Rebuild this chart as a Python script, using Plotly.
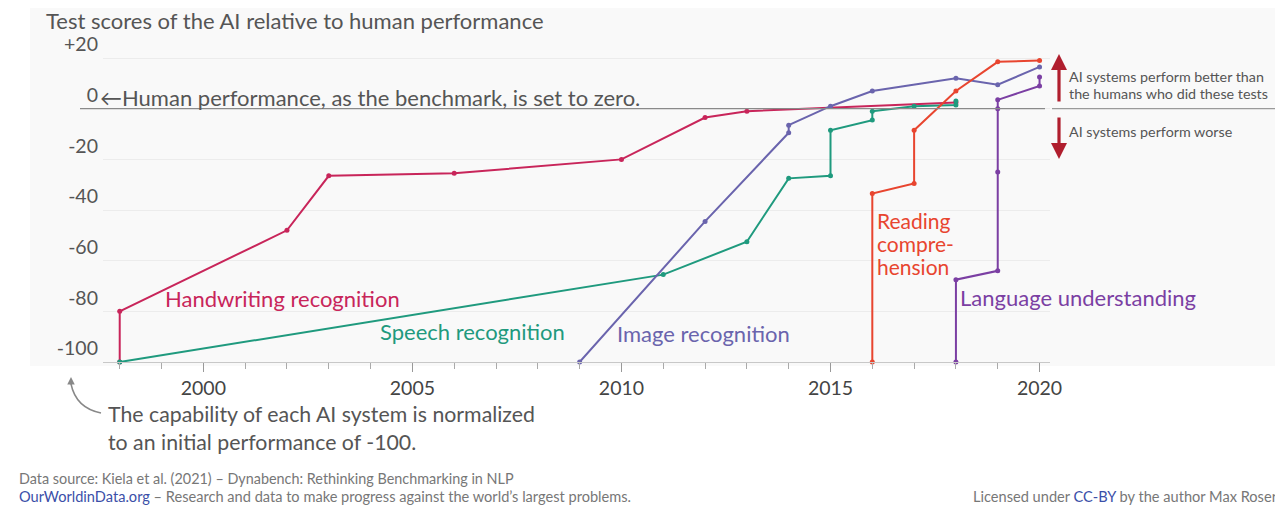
import plotly.graph_objects as go

# ---------------- data ----------------
handwriting_years = [1998, 1998, 2002, 2003, 2006, 2010, 2012, 2013, 2018]
handwriting_vals = [-100, -80, -48, -26.5, -25.5, -20, -3.5, -1, 2.5]

speech_years = [1998, 2011, 2013, 2014, 2015, 2015, 2016, 2016, 2017, 2018, 2018]
speech_vals = [-100, -65.5, -52.5, -27.5, -26.5, -8.5, -4.5, -1, 1, 1.5, 3]

image_years = [2009, 2012, 2014, 2014, 2015, 2016, 2018, 2019, 2020]
image_vals = [-100, -44.5, -9.5, -6.5, 1, 7, 12, 9.5, 16.5]

reading_years = [2016, 2016, 2017, 2017, 2018, 2019, 2020]
reading_vals = [-100, -33.5, -29.5, -8.5, 7, 18.5, 19]

language_years = [2018, 2018, 2019, 2019, 2019, 2019, 2020, 2020]
language_vals = [-100, -67.5, -64, -25, 0, 3.5, 9, 12.5]

y_tickvals = [-100, -80, -60, -40, -20, 0, 20]
y_ticktext = ["-100", "-80", "-60", "-40", "-20", "0", "+20"]
x_tickvals = [2000, 2005, 2010, 2015, 2020]

series = [
    ("Handwriting recognition", handwriting_years, handwriting_vals, "#c8255a"),
    ("Speech recognition", speech_years, speech_vals, "#1f9a7e"),
    ("Image recognition", image_years, image_vals, "#6a64ad"),
    ("Reading comprehension", reading_years, reading_vals, "#e8452f"),
    ("Language understanding", language_years, language_vals, "#7b3fa3"),
]

# ---------------- layout geometry (reference-pixel coordinates) ----------------
OFF = 8                      # browser body margin
W, H = 1283, 507             # window
FW, FH = W - OFF, H - OFF    # figure size
L, R, T, B = 103, 1050, 53, 362
Y_MIN, Y_MAX = -100, 22
X_MIN, X_MAX = 1997.6, 2020.25


def px(x):
    return (x - L) / (R - L)


def py(y):
    return (B - y) / (B - T)


FONT = "Lato, 'Open Sans', sans-serif"

fig = go.Figure()
for name, xs, ys, col in series:
    fig.add_trace(go.Scatter(
        x=xs, y=ys, mode="lines+markers", name=name,
        line=dict(color=col, width=2),
        marker=dict(color=col, size=5),
        cliponaxis=False, showlegend=False,
    ))

shapes = []
shapes.append(dict(type="rect", xref="paper", yref="paper", layer="below",
                   x0=px(30), x1=px(W), y0=py(366), y1=py(0),
                   fillcolor="#f9f9f9", line=dict(width=0)))
zero_paper = (0 - Y_MIN) / (Y_MAX - Y_MIN)
shapes.append(dict(type="line", xref="paper", yref="paper",
                   x0=px(80), x1=px(1045), y0=zero_paper, y1=zero_paper,
                   line=dict(color="#8a8a8a", width=1.3)))
shapes.append(dict(type="line", xref="paper", yref="paper",
                   x0=px(1052), x1=px(W), y0=zero_paper, y1=zero_paper,
                   line=dict(color="#9a9a9a", width=1.3)))
shapes.append(dict(type="rect", xref="paper", yref="paper",
                   x0=px(1186), x1=px(1266), y0=py(6), y1=py(-2),
                   fillcolor="#be2a2a", line=dict(width=0)))
shapes.append(dict(type="path", xref="paper", yref="paper",
                   path=f"M {px(101)},{py(413)} Q {px(76)},{py(408)} {px(71)},{py(384)}",
                   line=dict(color="#888", width=1.5)))

annotations = []


def txt(x, y, text, size, color, xanchor="left", yanchor="middle"):
    annotations.append(dict(x=px(x), y=py(y), xref="paper", yref="paper",
                            text=text, showarrow=False, xanchor=xanchor,
                            yanchor=yanchor, align="left",
                            font=dict(family=FONT, size=size, color=color)))


txt(44, 20, "Test scores of the AI relative to human performance", 22, "#555")
txt(98, 97, "←Human performance, as the benchmark, is set to zero.", 22, "#555")

txt(163, 298, "Handwriting recognition", 22, "#c8255a")
txt(378, 331, "Speech recognition", 22, "#1f9a7e")
txt(615, 333, "Image recognition", 22, "#6a64ad")
txt(875, 220, "Reading", 21, "#e8452f")
txt(875, 243, "compre-", 21, "#e8452f")
txt(875, 266, "hension", 21, "#e8452f")
txt(958, 297, "Language understanding", 22, "#7b3fa3")

txt(1067, 76, "AI systems perform better than", 14.3, "#555")
txt(1067, 93, "the humans who did these tests", 14.3, "#555")
txt(1067, 131, "AI systems perform worse", 14.3, "#555")

txt(106, 428, "The capability of each AI system is normalized<br>to an initial performance of -100.", 21.3, "#555")

txt(17, 478, "Data source: Kiela et al. (2021) – Dynabench: Rethinking Benchmarking in NLP", 14.4, "#777")
txt(17, 496, "<span style='color:#3b4fa8'>OurWorldinData.org</span> – Research and data to make progress against the world’s largest problems.", 14.6, "#777")
txt(1280, 496, "Licensed under <span style='color:#3b4fa8'>CC-BY</span> by the author Max Roser", 14.6, "#777", xanchor="right")

for y_head, y_tail in [(54, 103), (159, 116)]:
    annotations.append(dict(x=px(1059), y=py(y_head), xref="paper", yref="paper",
                            ax=0, ay=y_tail - y_head, text="", showarrow=True,
                            arrowhead=2, arrowsize=1, arrowwidth=3.2,
                            arrowcolor="#b01e2e"))
annotations.append(dict(x=px(71), y=py(377), xref="paper", yref="paper",
                        ax=0, ay=9, text="", showarrow=True, arrowhead=2,
                        arrowsize=1, arrowwidth=1.5, arrowcolor="#888"))

fig.update_layout(
    width=FW, height=FH,
    margin=dict(l=L - OFF, r=FW - (R - OFF), t=T - OFF, b=FH - (B - OFF), pad=0),
    paper_bgcolor="white", plot_bgcolor="rgba(0,0,0,0)",
    font=dict(family=FONT),
    shapes=shapes, annotations=annotations,
    showlegend=False,
    xaxis=dict(
        range=[X_MIN, X_MAX], tickvals=x_tickvals, showgrid=False, zeroline=False,
        showline=True, linecolor="#c8c8c8", linewidth=1,
        ticks="outside", ticklen=9, tickcolor="#999", tickwidth=1,
        minor=dict(dtick=1, tick0=1998, ticks="outside", ticklen=6,
                   tickcolor="#aaa", showgrid=False),
        tickfont=dict(family=FONT, size=19.5, color="#444"),
    ),
    yaxis=dict(
        range=[Y_MIN, Y_MAX], tickvals=y_tickvals, ticktext=y_ticktext,
        showgrid=True, gridcolor="#ececec", gridwidth=1, zeroline=False,
        showline=False, ticks="", ticklabelposition="outside top",
        ticklabelstandoff=4,
        tickfont=dict(family=FONT, size=19.5, color="#555"),
    ),
)

fig.write_html("out.html")
